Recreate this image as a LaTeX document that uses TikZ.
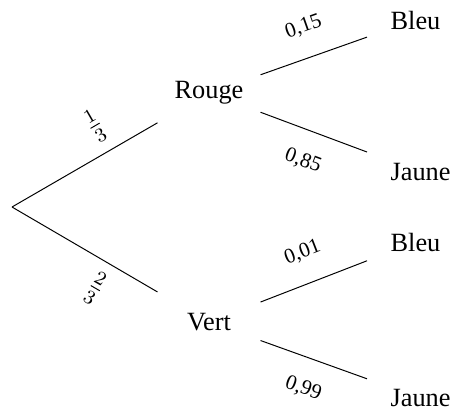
\documentclass[tikz,border=0pt]{standalone}
\usepackage{fontspec}
\setmainfont{Liberation Serif}
\begin{document}
\begin{tikzpicture}[x=0.4065pt,y=-0.4065pt,
  every node/.style={font=\fontsize{10.7}{13}\selectfont},
  mid/.style={minimum width=41.5pt, minimum height=26pt, inner sep=0pt},
  leaf/.style={anchor=west, inner xsep=9.4pt, minimum height=20pt},
  prob/.style={font=\fontsize{8.6}{10}\selectfont, sloped, pos=0.5},
  fracl/.style={font=\fontsize{12}{14}\selectfont, sloped, pos=0.67}]
\useasboundingbox (0,0) rectangle (453,412);
\coordinate (O) at (12,207);
\node[mid] (R) at (209,93) {Rouge};
\node[mid] (V) at (209,322) {Vert};
\node[leaf] (B1) at (367,20) {Bleu};
\node[leaf] (J1) at (367,172) {Jaune};
\node[leaf] (B2) at (367,242) {Bleu};
\node[leaf] (J2) at (367,398) {Jaune};
\draw (O) -- node[fracl, above=1pt] {$\frac{1}{3}$} (R);
\draw (O) -- node[fracl, below=1pt] {$\frac{2}{3}$} (V);
\draw (R) -- node[prob, above=5.5pt] {0,15} (B1);
\draw (R) -- node[prob, below=5.5pt] {0,85} (J1);
\draw (V) -- node[prob, above=5.5pt] {0,01} (B2);
\draw (V) -- node[prob, below=5.5pt] {0,99} (J2);
\end{tikzpicture}
\end{document}
